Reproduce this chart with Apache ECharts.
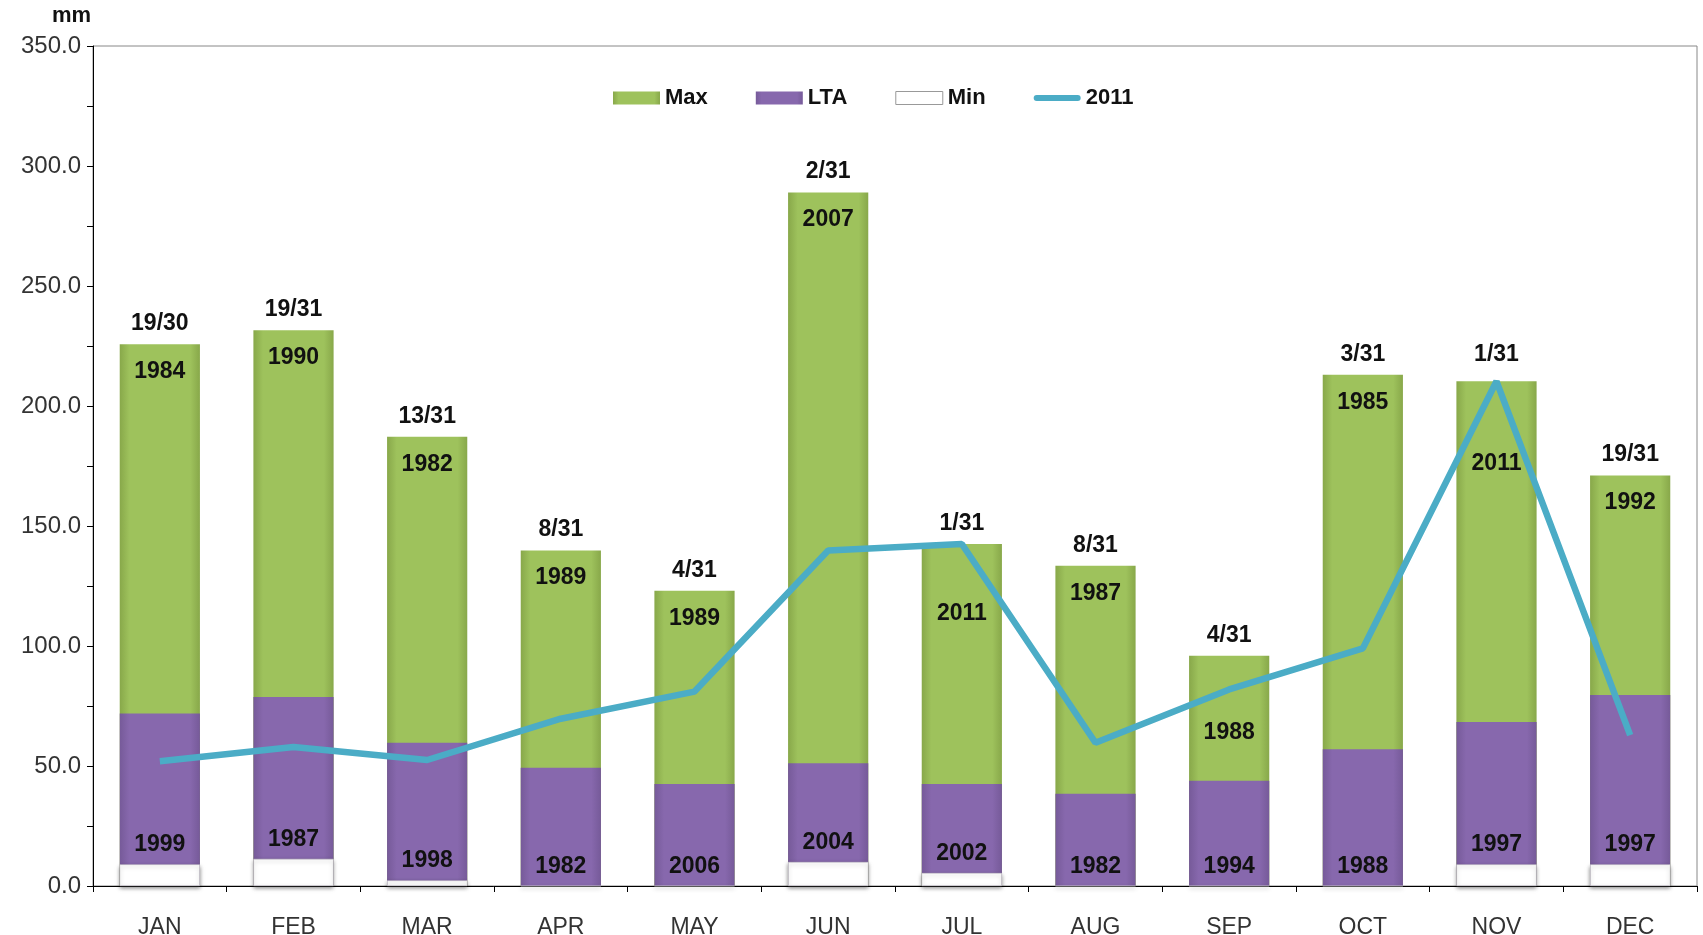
<!DOCTYPE html>
<html>
<head>
<meta charset="utf-8">
<script src="https://cdn.jsdelivr.net/npm/echarts@6/dist/echarts.min.js"></script>
<style>html,body{margin:0;padding:0;background:#fff;}#c{width:1703px;height:935px;}</style>
</head>
<body>
<div id="c"></div>
<script>
const months = ['JAN','FEB','MAR','APR','MAY','JUN','JUL','AUG','SEP','OCT','NOV','DEC'];
const maxVals = [225.7, 231.6, 187.2, 139.8, 123.0, 289.0, 142.5, 133.4, 95.9, 213.0, 210.3, 171.0];
const ltaVals = [71.9, 78.7, 59.7, 49.3, 42.5, 51.1, 42.5, 38.4, 43.9, 57.0, 68.3, 79.6];
const minVals = [9.0, 11.3, 2.3, 0, 0, 10.0, 5.4, 0, 0, 0, 9.0, 9.0];
const vals2011 = [52.0, 57.9, 52.5, 69.7, 81.0, 139.8, 142.5, 59.7, 81.9, 99.0, 210.3, 62.9];
const rankLabels = ['19/30','19/31','13/31','8/31','4/31','2/31','1/31','8/31','4/31','3/31','1/31','19/31'];
const maxYears = ['1984','1990','1982','1989','1989','2007','2011','1987','1988','1985','2011','1992'];
const minYears = ['1999','1987','1998','1982','2006','2004','2002','1982','1994','1988','1997','1997'];

// layout-only label shifts (pixels)
const maxYearShift = [0,0,0,0,0,0,42,0,49,0,55,0];
const rankShift = [0,0,0,0,0,0,0,0,0,0,6,0];

const FONT = "'Liberation Sans', Arial, sans-serif";
const chart = echarts.init(document.getElementById('c'));

function hGrad(edge, mid) {
  return new echarts.graphic.LinearGradient(0, 0, 1, 0, [
    {offset: 0, color: edge}, {offset: 0.12, color: mid},
    {offset: 0.88, color: mid}, {offset: 1, color: edge}
  ]);
}

const lblStyle = {color: '#111', fontSize: 23, fontWeight: 'bold', fontFamily: FONT};

const maxData = maxVals.map((v, i) => ({
  value: v,
  label: Object.assign({show: true, position: 'insideTop', distance: 16 + maxYearShift[i],
          formatter: maxYears[i]}, lblStyle)
}));
const rankData = maxVals.map((v, i) => ({
  value: v,
  label: Object.assign({show: true, position: 'top', distance: 9 + rankShift[i],
          formatter: rankLabels[i]}, lblStyle)
}));

chart.setOption({
  animation: false,
  title: {text: 'mm', left: 47, top: 0, textStyle: {fontSize: 22, fontWeight: 'bold', color: '#111', fontFamily: FONT}},
  legend: {
    left: 608, top: 82, itemWidth: 47, itemHeight: 13, itemGap: 48,
    textStyle: {fontSize: 22, fontWeight: 'bold', color: '#111', fontFamily: FONT},
    data: [
      {name: 'Max', icon: 'rect'},
      {name: 'LTA', icon: 'rect'},
      {name: 'Min', icon: 'rect', itemStyle: {color: '#fff', borderColor: '#999', borderWidth: 1}},
      {name: '2011', icon: 'path://M3,0 L44,0 A3,3 0 0 1 44,6 L3,6 A3,3 0 0 1 3,0 Z', itemStyle: {color: '#4BACC6'}}
    ]
  },
  grid: {left: 93, right: 6, top: 46, bottom: 49, show: true, borderColor: '#888', borderWidth: 1,
         containLabel: false, outerBoundsMode: 'none'},
  xAxis: {
    type: 'category', data: months, boundaryGap: true,
    axisLine: {lineStyle: {color: '#000', width: 1}},
    axisTick: {show: true, length: 6, lineStyle: {color: '#000'}},
    axisLabel: {fontSize: 23, color: '#333', fontFamily: FONT, margin: 30}
  },
  yAxis: {
    type: 'value', min: 0, max: 350, interval: 25,
    splitLine: {show: false},
    axisLine: {show: true, lineStyle: {color: '#000', width: 1}},
    axisTick: {show: true, length: 6, lineStyle: {color: '#000'}},
    axisLabel: {fontSize: 24, color: '#333', fontFamily: FONT, margin: 12,
      formatter: v => (v % 50 === 0 ? v.toFixed(1) : '')}
  },
  series: [
    {
      name: 'Max', type: 'bar', data: maxData, barWidth: '60%', barGap: '-100%', z: 2,
      itemStyle: {color: hGrad('#88A84A', '#9EC25C')}
    },
    {
      name: 'Max', type: 'bar', data: rankData, barWidth: '60%', barGap: '-100%', z: 1,
      itemStyle: {color: 'rgba(0,0,0,0)'}
    },
    {
      name: 'LTA', type: 'bar', data: ltaVals, barWidth: '60%', barGap: '-100%', z: 3,
      itemStyle: {color: hGrad('#765A99', '#8768AD')},
      label: {show: false}
    },
    {
      name: 'Min', type: 'bar', data: minVals, barWidth: '60%', barGap: '-100%', z: 4,
      itemStyle: {color: '#fff', borderColor: '#ccc', borderWidth: 0.5,
                  shadowBlur: 4, shadowColor: 'rgba(0,0,0,0.45)', shadowOffsetY: 2},
      label: Object.assign({show: true, position: 'top', distance: 8,
              formatter: p => minYears[p.dataIndex]}, lblStyle)
    },
    {
      name: '2011', type: 'line', data: vals2011, z: 5,
      showSymbol: false, symbol: 'none',
      lineStyle: {color: '#4BACC6', width: 6.5},
      itemStyle: {color: '#4BACC6'}
    }
  ]
});
</script>
</body>
</html>
